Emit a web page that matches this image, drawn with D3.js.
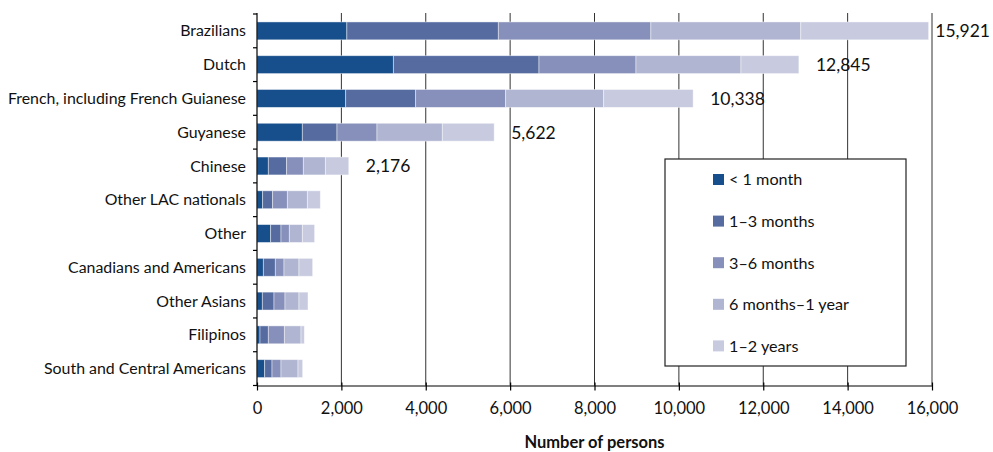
<!DOCTYPE html>
<html>
<head>
<meta charset="utf-8">
<script src="https://cdn.jsdelivr.net/npm/d3@7"></script>
<style>
  html, body { margin: 0; padding: 0; background: #fff; }
  svg { display: block; font-family: Lato, "Open Sans", sans-serif; }
</style>
</head>
<body>
<svg id="chart" width="993" height="452"></svg>
<script>
const categories = ["Brazilians", "Dutch", "French, including French Guianese", "Guyanese", "Chinese",
  "Other LAC nationals", "Other", "Canadians and Americans", "Other Asians", "Filipinos",
  "South and Central Americans"];
const seriesNames = ["< 1 month", "1–3 months", "3–6 months", "6 months–1 year", "1–2 years"];
const lessThan1Month = [2130, 3232, 2102, 1074, 268, 134, 324, 150, 126, 71, 182];
const months1to3     = [3590, 3452, 1659, 822, 435, 237, 245, 284, 277, 197, 174];
const months3to6     = [3616, 2299, 2133, 948, 395, 348, 197, 206, 261, 380, 213];
const months6to12    = [3554, 2489, 2324, 1548, 522, 474, 308, 355, 331, 395, 403];
const years1to2      = [3031, 1373, 2120, 1230, 556, 308, 292, 325, 214, 79, 111];
const labeledCount = 5; // totals shown for the first five categories
const xTicks = [0, 2000, 4000, 6000, 8000, 10000, 12000, 14000, 16000];
const colors = ["#174f8c", "#566ca1", "#8790ba", "#b0b5d1", "#c8cbe0"];

(function () {
const seriesValues = [lessThan1Month, months1to3, months3to6, months6to12, years1to2];
const rows = categories.map((c, i) => {
  const r = { category: c };
  seriesNames.forEach((s, k) => r[s] = seriesValues[k][i]);
  r.total = d3.sum(seriesValues, v => v[i]);
  return r;
});

const svg = d3.select("#chart");
const pL = 257, pR = 932, pT = 14, pB = 385.5;

const x = d3.scaleLinear().domain([0, 16000]).range([pL, pR]);
const y = d3.scaleBand().domain(categories).range([pT, pB]).paddingInner(0.47).paddingOuter(0.235);

// gridlines
svg.append("g").selectAll("line").data(xTicks.filter(t => t > 0)).join("line")
  .attr("x1", d => x(d)).attr("x2", d => x(d))
  .attr("y1", pT - 1).attr("y2", pB)
  .attr("stroke", "#333").attr("stroke-width", 1);

// bars
const stacked = d3.stack().keys(seriesNames)(rows);
svg.append("g").selectAll("g").data(stacked).join("g")
  .attr("fill", (d, i) => colors[i])
  .selectAll("rect").data(d => d).join("rect")
  .attr("x", d => x(d[0]))
  .attr("width", d => x(d[1]) - x(d[0]))
  .attr("y", d => y(d.data.category))
  .attr("height", y.bandwidth())
  .attr("stroke", "rgba(255,255,255,0.55)")
  .attr("stroke-width", 0.8);

// y axis
svg.append("line").attr("x1", pL).attr("x2", pL).attr("y1", pT - 1).attr("y2", pB)
  .attr("stroke", "#000").attr("stroke-width", 1.2);
const boundaries = categories.map(c => y(c) - y.step() * y.paddingOuter());
boundaries.push(pB);
svg.append("g").selectAll("line").data(boundaries).join("line")
  .attr("x1", pL - 4).attr("x2", pL).attr("y1", d => d).attr("y2", d => d)
  .attr("stroke", "#000").attr("stroke-width", 1.2);
svg.append("g").selectAll("text").data(categories).join("text")
  .attr("x", pL - 11)
  .attr("y", d => y(d) + y.bandwidth() / 2)
  .attr("dy", "0.35em")
  .attr("text-anchor", "end")
  .attr("font-size", 15.9)
  .attr("fill", "#111")
  .text(d => d);

// x axis
const xAxis = d3.axisBottom(x).tickValues(xTicks).tickFormat(d3.format(",")).tickSize(0);
const xg = svg.append("g").attr("transform", `translate(0,${pB})`).call(xAxis);
xg.select(".domain").attr("stroke", "#000").attr("stroke-width", 1.2);
xg.selectAll(".tick text").attr("font-size", 16.5).attr("fill", "#111")
  .attr("font-family", "Lato, 'Open Sans', sans-serif").attr("y", 17).attr("dy", "0.71em");
xg.selectAll(".tick").append("line").attr("y1", -3).attr("y2", 5)
  .attr("stroke", "#000").attr("stroke-width", 1.2);

svg.append("text")
  .attr("x", (pL + pR) / 2).attr("y", 447.5)
  .attr("text-anchor", "middle")
  .attr("font-size", 16.5).attr("font-weight", "bold").attr("fill", "#111")
  .text("Number of persons");

// total labels
const fmt = d3.format(",");
const lbl = svg.append("g").selectAll("text").data(rows.slice(0, labeledCount)).join("text")
  .attr("y", d => y(d.category) + y.bandwidth() / 2)
  .attr("dy", "0.36em")
  .attr("font-size", 17.5)
  .attr("fill", "#111")
  .text(d => fmt(d.total));
lbl.each(function(d) {
  const w = this.getComputedTextLength();
  d3.select(this).attr("x", Math.min(x(d.total) + 17, 990 - w));
});

// legend
const lg = svg.append("g");
lg.append("rect").attr("x", 665).attr("y", 159).attr("width", 241).attr("height", 207)
  .attr("fill", "#fff").attr("stroke", "#222").attr("stroke-width", 1.2);
const items = lg.selectAll("g").data(seriesNames).join("g")
  .attr("transform", (d, i) => `translate(713,${179.5 + i * 41.6})`);
items.append("rect").attr("x", 0).attr("y", -5.5).attr("width", 11).attr("height", 11)
  .attr("fill", (d, i) => colors[i]);
items.append("text").attr("x", 16).attr("dy", "0.36em")
  .attr("font-size", 16.2).attr("fill", "#111").text(d => d);
})();
</script>
</body>
</html>
